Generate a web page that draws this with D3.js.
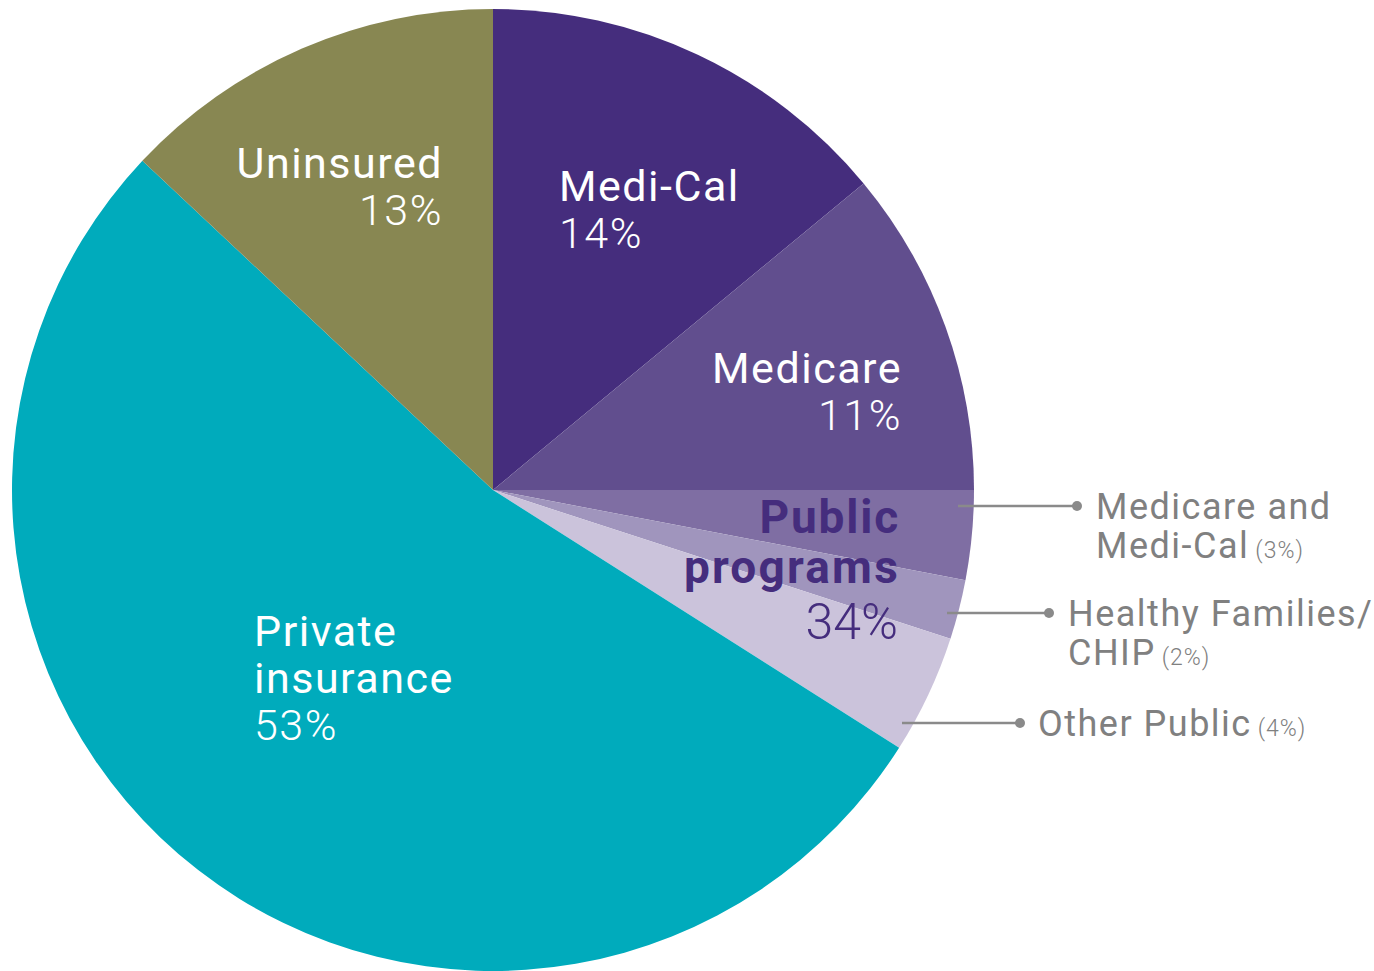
<!DOCTYPE html>
<html>
<head>
<meta charset="utf-8">
<script src="https://cdn.jsdelivr.net/npm/d3@7"></script>
<style>
  body { margin: 0; background: #fff; }
  svg { display: block; font-family: Roboto, "Liberation Sans", sans-serif; }
</style>
</head>
<body>
<div id="chart"></div>
<script>
// Health coverage shares, clockwise from 12 o'clock
var categories = ["Medi-Cal", "Medicare", "Medicare and Medi-Cal", "Healthy Families/CHIP", "Other Public", "Private insurance", "Uninsured"];
var shares = [14, 11, 3, 2, 4, 53, 13];
var colors = ["#452d7d", "#614e8e", "#7f6ea3", "#a095bd", "#cbc3db", "#00abbc", "#888752"];

var w = 1374, h = 971;
var cx = 493, cy = 490, r = 481;

var svg = d3.select("#chart").append("svg")
    .attr("width", w)
    .attr("height", h);

var pie = d3.pie().sort(null).value(function(d) { return d; });
var arcs = pie(shares);
var arc = d3.arc().innerRadius(0).outerRadius(r);

var g = svg.append("g").attr("transform", "translate(" + cx + "," + cy + ")");

g.selectAll("path")
    .data(arcs)
    .enter()
    .append("path")
    .attr("d", arc)
    .style("fill", function(d, i) { return colors[i]; });

// in-slice labels (name lines, percent)
var inside = [
    { i: 0, x: 559, y: 201, anchor: "start", lines: ["Medi-Cal"] },
    { i: 1, x: 902, y: 383, anchor: "end", lines: ["Medicare"] },
    { i: 5, x: 254, y: 646, anchor: "start", lines: ["Private", "insurance"] },
    { i: 6, x: 443, y: 178, anchor: "end", lines: ["Uninsured"] }
];

inside.forEach(function(l) {
    var t = svg.append("text")
        .attr("x", l.x)
        .attr("y", l.y)
        .attr("text-anchor", l.anchor)
        .style("fill", "#fff")
        .style("font-size", "43px");
    l.lines.forEach(function(s, k) {
        t.append("tspan").attr("x", l.x).attr("dy", k ? 47 : 0)
            .style("letter-spacing", "1.5px").text(s);
    });
    t.append("tspan")
        .attr("x", l.x)
        .attr("dy", 47)
        .style("font-weight", 300)
        .style("letter-spacing", "1.5px")
        .text(shares[l.i] + "%");
});

// public programs total
var publicTotal = d3.sum(shares.slice(0, 5));
var pt = svg.append("text")
    .attr("x", 900)
    .attr("y", 533)
    .attr("text-anchor", "end")
    .style("fill", "#452d7d")
    .style("font-size", "46px");
pt.append("tspan").attr("x", 900).style("font-weight", "bold").style("letter-spacing", "1.8px").text("Public");
pt.append("tspan").attr("x", 900).attr("dy", 50).style("font-weight", "bold").style("letter-spacing", "2.2px").text("programs");
pt.append("tspan").attr("x", 898).attr("dy", 56).style("font-weight", 300).style("font-size", "50px").text(publicTotal + "%");

// callout labels for the small slices
var callouts = [
    { i: 2, y: 506, x0: 958, x1: 1077, tx: 1096, lines: ["Medicare and", "Medi-Cal"] },
    { i: 3, y: 613, x0: 947, x1: 1049, tx: 1068, lines: ["Healthy Families/", "CHIP"] },
    { i: 4, y: 723, x0: 902, x1: 1020, tx: 1038, lines: ["Other Public"] }
];

callouts.forEach(function(c) {
    svg.append("line")
        .attr("x1", c.x0).attr("x2", c.x1)
        .attr("y1", c.y).attr("y2", c.y)
        .style("stroke", "#8a8a8a")
        .style("stroke-width", 2.5);
    svg.append("circle")
        .attr("cx", c.x1).attr("cy", c.y).attr("r", 5)
        .style("fill", "#8a8a8a");
    var t = svg.append("text")
        .attr("x", c.tx)
        .attr("y", c.y + 13)
        .style("fill", "#808080")
        .style("font-size", "36px");
    c.lines.forEach(function(s, k) {
        t.append("tspan").attr("x", c.tx).attr("dy", k ? 39 : 0)
            .style("letter-spacing", "1.5px").text(s);
    });
    t.append("tspan")
        .attr("dx", 6)
        .style("font-size", "23px")
        .style("font-weight", 300)
        .style("letter-spacing", "1px")
        .text("(" + shares[c.i] + "%)");
});
</script>
</body>
</html>
